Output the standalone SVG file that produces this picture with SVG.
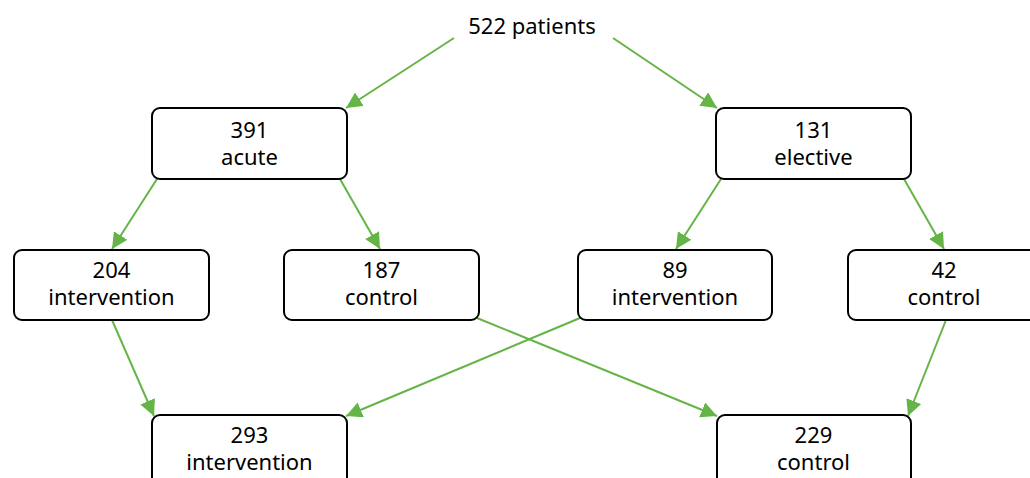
<svg xmlns="http://www.w3.org/2000/svg" width="1030" height="478" viewBox="0 0 1030 478">
  <style>
    .box { fill: #ffffff; stroke: #000000; stroke-width: 2; }
    .lbl { font-family: "Noto Sans", "Open Sans", "DejaVu Sans", sans-serif; font-size: 22px; fill: #000000; text-anchor: middle; }
    .edge { stroke: #64b446; stroke-width: 2; fill: none; marker-end: url(#arrow); }
  </style>
  <defs>
    <marker id="arrow" markerUnits="userSpaceOnUse" markerWidth="17" markerHeight="17" refX="16" refY="8" orient="auto">
      <path d="M0,0 L16,8 L0,16 z" fill="#64b446"/>
    </marker>
  </defs>
  <rect width="1030" height="478" fill="#ffffff"/>

  <!-- connectors -->
  <g id="connectors">
    <line class="edge" x1="454" y1="38" x2="346" y2="108"/>
    <line class="edge" x1="613" y1="38" x2="717" y2="108"/>
    <line class="edge" x1="157" y1="179" x2="112" y2="249"/>
    <line class="edge" x1="340" y1="179" x2="380" y2="249"/>
    <line class="edge" x1="721" y1="179" x2="676" y2="249"/>
    <line class="edge" x1="904" y1="179" x2="944" y2="249"/>
    <line class="edge" x1="112" y1="320" x2="154" y2="416"/>
    <line class="edge" x1="580" y1="318" x2="346" y2="416"/>
    <line class="edge" x1="477" y1="318" x2="717" y2="416"/>
    <line class="edge" x1="946" y1="320" x2="908" y2="416"/>
  </g>

  <!-- nodes -->
  <g id="n-all">
    <text class="lbl" x="532" y="34">522 patients</text>
  </g>
  <g id="n-acute">
    <rect class="box" x="152" y="108" width="195" height="71" rx="8"/>
    <text class="lbl" x="249.5" y="138">391</text>
    <text class="lbl" x="249.5" y="165">acute</text>
  </g>
  <g id="n-elective">
    <rect class="box" x="716" y="108" width="195" height="71" rx="8"/>
    <text class="lbl" x="813.5" y="138">131</text>
    <text class="lbl" x="813.5" y="165">elective</text>
  </g>
  <g id="n-acute-int">
    <rect class="box" x="14" y="250" width="195" height="70" rx="8"/>
    <text class="lbl" x="111.5" y="278">204</text>
    <text class="lbl" x="111.5" y="305">intervention</text>
  </g>
  <g id="n-acute-ctl">
    <rect class="box" x="284" y="250" width="195" height="70" rx="8"/>
    <text class="lbl" x="381.5" y="278">187</text>
    <text class="lbl" x="381.5" y="305">control</text>
  </g>
  <g id="n-elec-int">
    <rect class="box" x="578" y="250" width="194" height="70" rx="8"/>
    <text class="lbl" x="675" y="278">89</text>
    <text class="lbl" x="675" y="305">intervention</text>
  </g>
  <g id="n-elec-ctl">
    <rect class="box" x="848" y="250" width="195" height="70" rx="8"/>
    <text class="lbl" x="944" y="278">42</text>
    <text class="lbl" x="944" y="305">control</text>
  </g>
  <g id="n-int-total">
    <rect class="box" x="152" y="415" width="195" height="80" rx="8"/>
    <text class="lbl" x="249.5" y="443">293</text>
    <text class="lbl" x="249.5" y="470">intervention</text>
  </g>
  <g id="n-ctl-total">
    <rect class="box" x="717" y="415" width="194" height="80" rx="8"/>
    <text class="lbl" x="813.5" y="443">229</text>
    <text class="lbl" x="813.5" y="470">control</text>
  </g>
</svg>
